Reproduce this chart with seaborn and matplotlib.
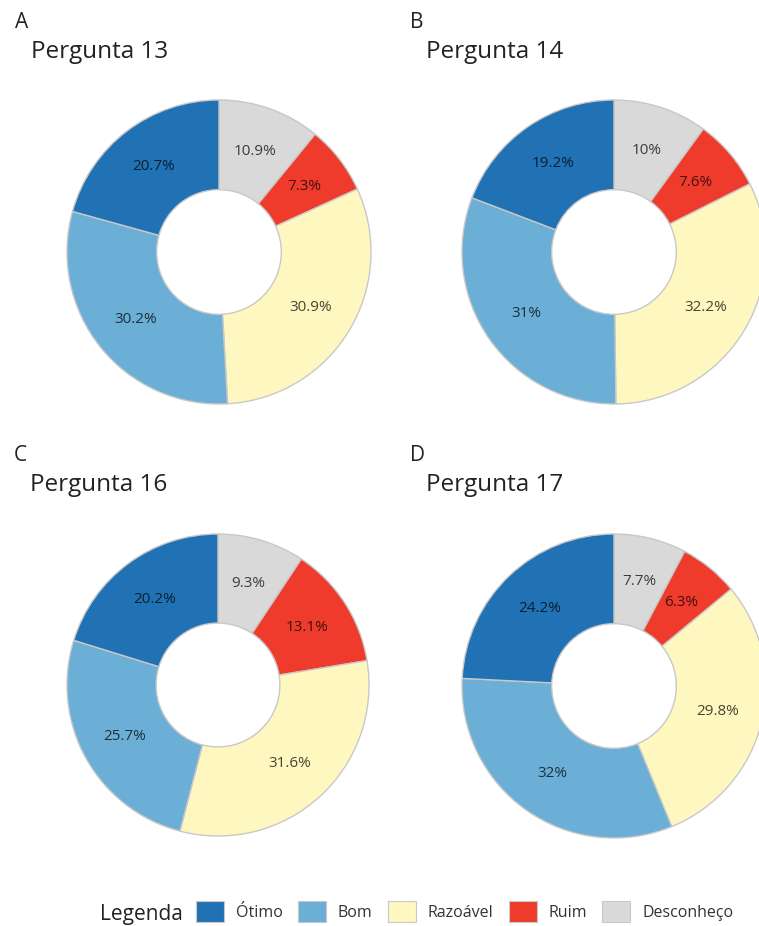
import matplotlib
matplotlib.use("Agg")
import numpy as np
import matplotlib.pyplot as plt
from matplotlib.patches import Patch
import seaborn as sns

sns.set_theme(style="white")
plt.rcParams["font.family"] = ["Open Sans", "DejaVu Sans"]

# Survey answers, clockwise from 12 o'clock
categories = ["Desconheço", "Ruim", "Razoável", "Bom", "Ótimo"]
legend_order = ["Ótimo", "Bom", "Razoável", "Ruim", "Desconheço"]
panel_letters = ["A", "B", "C", "D"]
panel_titles = ["Pergunta 13", "Pergunta 14", "Pergunta 16", "Pergunta 17"]

q13 = [10.9, 7.3, 30.9, 30.2, 20.7]
q14 = [10, 7.6, 32.2, 31, 19.2]
q16 = [9.3, 13.1, 31.6, 25.7, 20.2]
q17 = [7.7, 6.3, 29.8, 32, 24.2]
series = [q13, q14, q16, q17]

palette = dict(zip(
    categories,
    sns.color_palette(["#d9d9d9", "#ef3b2c", "#fff7c0", "#6baed6", "#2171b5"]),
))

W, H = 759, 926
fig = plt.figure(figsize=(W / 100, H / 100), dpi=100)

# donut centres and radii in pixels (top-left origin)
centres = [(219, 252, 152), (614, 252, 152), (218, 685, 151), (614, 686, 152)]
letter_base = [28, 28, 461, 461]
title_base = [58, 58, 491, 491]

for (cx, cy, r), lb, tb, letter, title, vals in zip(
        centres, letter_base, title_base, panel_letters, panel_titles, series):
    ax = fig.add_axes([(cx - r) / W, (H - cy - r) / H, 2 * r / W, 2 * r / H])
    ax.pie(
        vals,
        colors=[palette[c] for c in categories],
        startangle=90,
        counterclock=False,
        radius=1,
        wedgeprops=dict(width=0.59, edgecolor="#c8c8c8", linewidth=1.0),
    )
    total = sum(vals)
    start = 0.0
    for v in vals:
        mid = (start + v / 2) / total * 2 * np.pi
        rr = 0.705
        ax.text(rr * np.sin(mid), rr * np.cos(mid), f"{v:g}%", ha="center", va="center",
                fontsize=11, color="black", alpha=0.72)
        start += v
    ax.set_xlim(-1, 1)
    ax.set_ylim(-1, 1)
    ax.set_aspect("equal")
    ax.axis("off")

    fig.text((cx - 204) / W, 1 - lb / H, letter, fontsize=15, color="#222222",
             ha="left", va="baseline")
    fig.text((cx - 188) / W, 1 - tb / H, title, fontsize=17.5, color="#222222",
             ha="left", va="baseline")

# legend along the bottom
handles = [Patch(facecolor=palette[c], edgecolor="#c8c8c8", linewidth=0.8) for c in legend_order]
fig.text(100 / W, 1 - 920 / H, "Legenda", fontsize=15, color="#222222", ha="left", va="baseline")
fig.legend(
    handles, legend_order,
    loc="center left", bbox_to_anchor=(196 / W, 1 - 911.5 / H),
    ncol=5, frameon=False, fontsize=11.5, labelcolor="#333333",
    handlelength=1.75, handleheight=1.7, handletextpad=0.75,
    columnspacing=0.95, borderpad=0, borderaxespad=0,
)

fig.savefig("out.png", dpi=100)
